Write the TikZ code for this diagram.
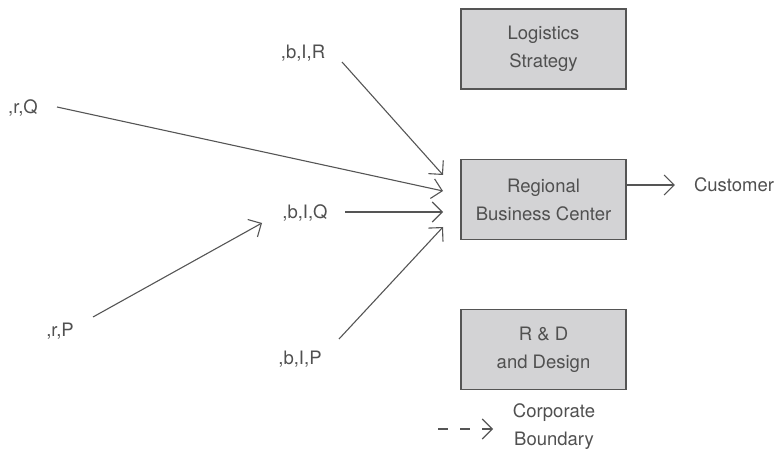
\documentclass[tikz,border=0pt]{standalone}
\usepackage{fontspec}
\setmainfont{TeX Gyre Heros}
\usetikzlibrary{arrows.meta}
\definecolor{boxfill}{RGB}{211,211,213}
\definecolor{ink}{RGB}{85,85,85}
\definecolor{txt}{RGB}{80,80,80}
\begin{document}
\begin{tikzpicture}[x=1pt,y=-1pt,
  font=\fontsize{18.5}{28}\selectfont,
  box/.style={draw=ink, fill=boxfill, line width=1.2pt, minimum width=165pt,
    minimum height=80pt, align=center, text=txt, inner sep=0pt},
  lbl/.style={text=txt, inner sep=0pt, align=center},
  arr/.style={draw=ink, line width=1.1pt, -{Straight Barb[length=10pt,width=20pt]}},
  dasharr/.style={arr, dash pattern=on 10pt off 12pt}]
\useasboundingbox (0,0) rectangle (784,454);

\node[box] (logi) at (543.5,49) {Logistics\\Strategy};
\node[box] (rbc) at (543.5,199.5) {Regional\\Business Center};
\node[box] (rd) at (543.5,349.5) {R \& D\\and Design};

\node[lbl] (rQ) at (23,108) {,r,Q};
\node[lbl] (bIR) at (303,53) {,b,I,R};
\node[lbl] (bIQ) at (305,213) {,b,I,Q};
\node[lbl] (bIP) at (300,359) {,b,I,P};
\node[lbl] (rP) at (60,331) {,r,P};
\node[lbl] (cust) at (734,185) {Customer};
\node[lbl] (legend) at (554,427) {Corporate\\Boundary};

\coordinate (sQ) at (57,107);
\coordinate (sR) at (342,62);
\coordinate (sQ2) at (345,212);
\coordinate (sP) at (339,339);
\coordinate (sRP) at (93,317);
\coordinate (tR) at (443,175);
\coordinate (tQ) at (443,191);
\coordinate (tQ2) at (443,212);
\coordinate (tP) at (443,227);
\coordinate (tRP) at (262,223);
\coordinate (dS) at (438,429);
\coordinate (dE) at (493,429);

\draw[arr] (sQ) -- (tQ);
\draw[arr] (sR) -- (tR);
\draw[arr] (sQ2) -- (tQ2);
\draw[arr] (sP) -- (tP);
\draw[arr] (sRP) -- (tRP);
\draw[arr] ([yshift=14.5pt]rbc.east) -- ([xshift=-19pt]cust.west);
\draw[dasharr] (dS) -- (dE);
\end{tikzpicture}
\end{document}
